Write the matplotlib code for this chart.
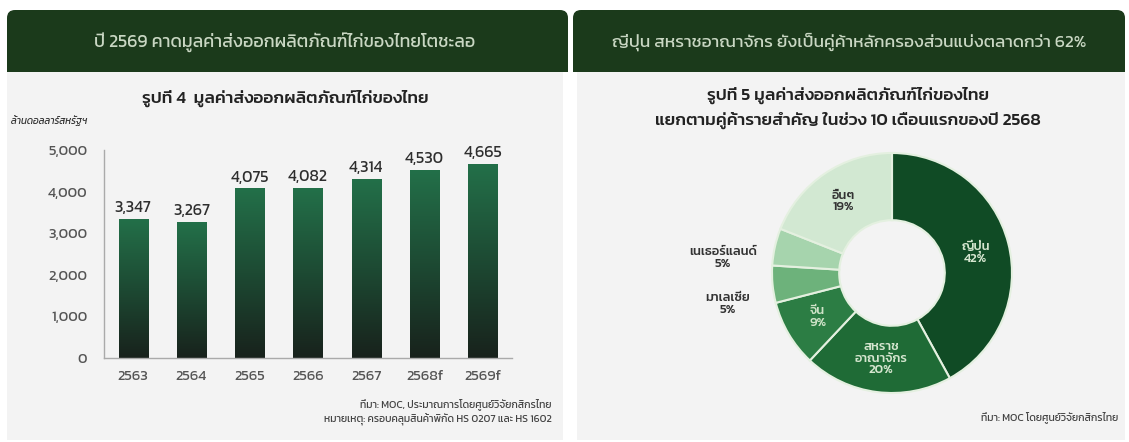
import glob
import numpy as np
import matplotlib
matplotlib.use('Agg')
import matplotlib.pyplot as plt
from matplotlib import font_manager
from matplotlib.colors import LinearSegmentedColormap
from matplotlib.patches import FancyBboxPatch, Rectangle

# Thai font (google-fonts folder), DejaVu as fallback
for f in glob.glob('/usr/share/fonts/truetype/google-fonts/Kanit-*.ttf'):
    font_manager.fontManager.addfont(f)
plt.rcParams['font.family'] = ['Kanit', 'DejaVu Sans']

# ---- data ----
years = ['2563', '2564', '2565', '2566', '2567', '2568f', '2569f']
export_value = [3347, 3267, 4075, 4082, 4314, 4530, 4665]

partners = ['ญี่ปุ่น', 'สหราช\nอาณาจักร', 'จีน', 'มาเลเซีย', 'เนเธอร์แลนด์', 'อื่นๆ']
share = [42, 20, 9, 5, 5, 19]
share_colors = ['#104b25', '#1f6b36', '#2c7d44', '#6db27b', '#a6d4ad', '#d2e8d2']

header_left = 'ปี 2569 คาดมูลค่าส่งออกผลิตภัณฑ์ไก่ของไทยโตชะลอ'
header_right = 'ญี่ปุ่น สหราชอาณาจักร ยังเป็นคู่ค้าหลักครองส่วนแบ่งตลาดกว่า 62%'
title_left = 'รูปที่ 4  มูลค่าส่งออกผลิตภัณฑ์ไก่ของไทย'
title_right = 'รูปที่ 5 มูลค่าส่งออกผลิตภัณฑ์ไก่ของไทย\nแยกตามคู่ค้ารายสำคัญ ในช่วง 10 เดือนแรกของปี 2568'
unit_label = 'ล้านดอลลาร์สหรัฐฯ'
source_left = 'ที่มา: MOC, ประมาณการโดยศูนย์วิจัยกสิกรไทย\nหมายเหตุ: ครอบคลุมสินค้าพิกัด HS 0207 และ HS 1602'
source_right = 'ที่มา: MOC โดยศูนย์วิจัยกสิกรไทย'

W, H = 1129, 442
fig = plt.figure(figsize=(W / 100, H / 100), dpi=100)
fig.patch.set_facecolor('white')

# background axes in pixel coords
bg = fig.add_axes([0, 0, 1, 1], zorder=-1)
bg.set_xlim(0, W)
bg.set_ylim(H, 0)
bg.axis('off')

header_col = '#1b3a1b'
panel_col = '#f3f3f3'
for x0, x1, gx0, gx1 in [(7, 568, 7, 563), (573, 1125, 577, 1125)]:
    bg.add_patch(Rectangle((gx0, 72), gx1 - gx0, 368, color=panel_col, lw=0))
    bg.add_patch(FancyBboxPatch((x0 + 8, 10 + 8), x1 - x0 - 16, 62 - 16,
                                boxstyle='round,pad=8', color=header_col, lw=0))
    bg.add_patch(Rectangle((x0, 40), x1 - x0, 32, color=header_col, lw=0))

bg.text(285, 42, header_left, ha='center', va='center', color='#c9d7c3', fontsize=12.8)
bg.text(849, 42, header_right, ha='center', va='center', color='#c9d7c3', fontsize=12.5)
bg.text(285, 98, title_left, ha='center', va='center', color='#222222', fontsize=12.5,
        fontweight='medium')
bg.text(848, 108, title_right, ha='center', va='center', color='#222222', fontsize=12.5,
        fontweight='medium', linespacing=1.55)
bg.text(11, 121, unit_label, ha='left', va='center', color='#333333', fontsize=7,
        fontstyle='italic')
bg.text(552, 412, source_left, ha='right', va='center', color='#444444', fontsize=7.5,
        linespacing=1.35)
bg.text(1118, 417, source_right, ha='right', va='center', color='#444444', fontsize=7.5)

# ---- bar chart ----
ax = fig.add_axes([104 / W, (H - 358) / H, 408 / W, 208 / H])
ax.set_facecolor('none')
x = np.arange(len(years))
bars = ax.bar(x, export_value, width=0.5, color='none', lw=0, zorder=2)

cmap = LinearSegmentedColormap.from_list('bar', ['#18221c', '#1d4a33', '#237049'])
grad = np.linspace(0, 1, 256).reshape(-1, 1)
for b in bars:
    im = ax.imshow(grad, extent=[b.get_x(), b.get_x() + b.get_width(), 0, b.get_height()],
                   origin='lower', cmap=cmap, aspect='auto', zorder=2)
    im.set_clip_path(b)
    ax.text(b.get_x() + b.get_width() / 2, b.get_height() + 90, f'{b.get_height():,.0f}',
            ha='center', va='bottom', fontsize=11.5, color='#2e2e2e', clip_on=False)

ax.set_xlim(-0.5, 6.5)
ax.set_ylim(0, 5000)
ax.set_yticks(range(0, 5001, 1000))
ax.set_yticklabels([f'{v:,}' for v in range(0, 5001, 1000)])
ax.set_xticks(x)
ax.set_xticklabels(years)
ax.tick_params(length=0, labelsize=10.5, colors='#555555')
ax.tick_params(axis='y', pad=12)
ax.tick_params(axis='x', pad=9)
for s in ['top', 'right']:
    ax.spines[s].set_visible(False)
for s in ['left', 'bottom']:
    ax.spines[s].set_color('#aaaaaa')
    ax.spines[s].set_linewidth(1)

# ---- donut ----
cx, cy, r = 892, 273, 120
half = 130
ax2 = fig.add_axes([(cx - half) / W, (H - cy - half) / H, 2 * half / W, 2 * half / H])
ax2.set_facecolor('none')
wedges, _ = ax2.pie(share, colors=share_colors, startangle=90, counterclock=False,
                    radius=1, wedgeprops=dict(width=0.56, edgecolor='#e4f0e0', linewidth=1.5))
ax2.set_xlim(-half / r, half / r)
ax2.set_ylim(-half / r, half / r)

label_cols = ['#d5e6cf', '#d5e6cf', '#cfe3c8', '#333333', '#333333', '#333333']
outside = {3: (-1.37, -0.26), 4: (-1.41, 0.125)}
for i, w in enumerate(wedges):
    txt = f'{partners[i]}\n{share[i]}%'
    if i in outside:
        px, py = outside[i]
    else:
        ang = np.deg2rad((w.theta1 + w.theta2) / 2)
        px, py = 0.72 * np.cos(ang), 0.72 * np.sin(ang)
    ax2.text(px, py, txt, ha='center', va='center', fontsize=9.3, color=label_cols[i],
             fontweight='medium', linespacing=1.2, clip_on=False)

fig.savefig('out.png', dpi=100, facecolor='white')
